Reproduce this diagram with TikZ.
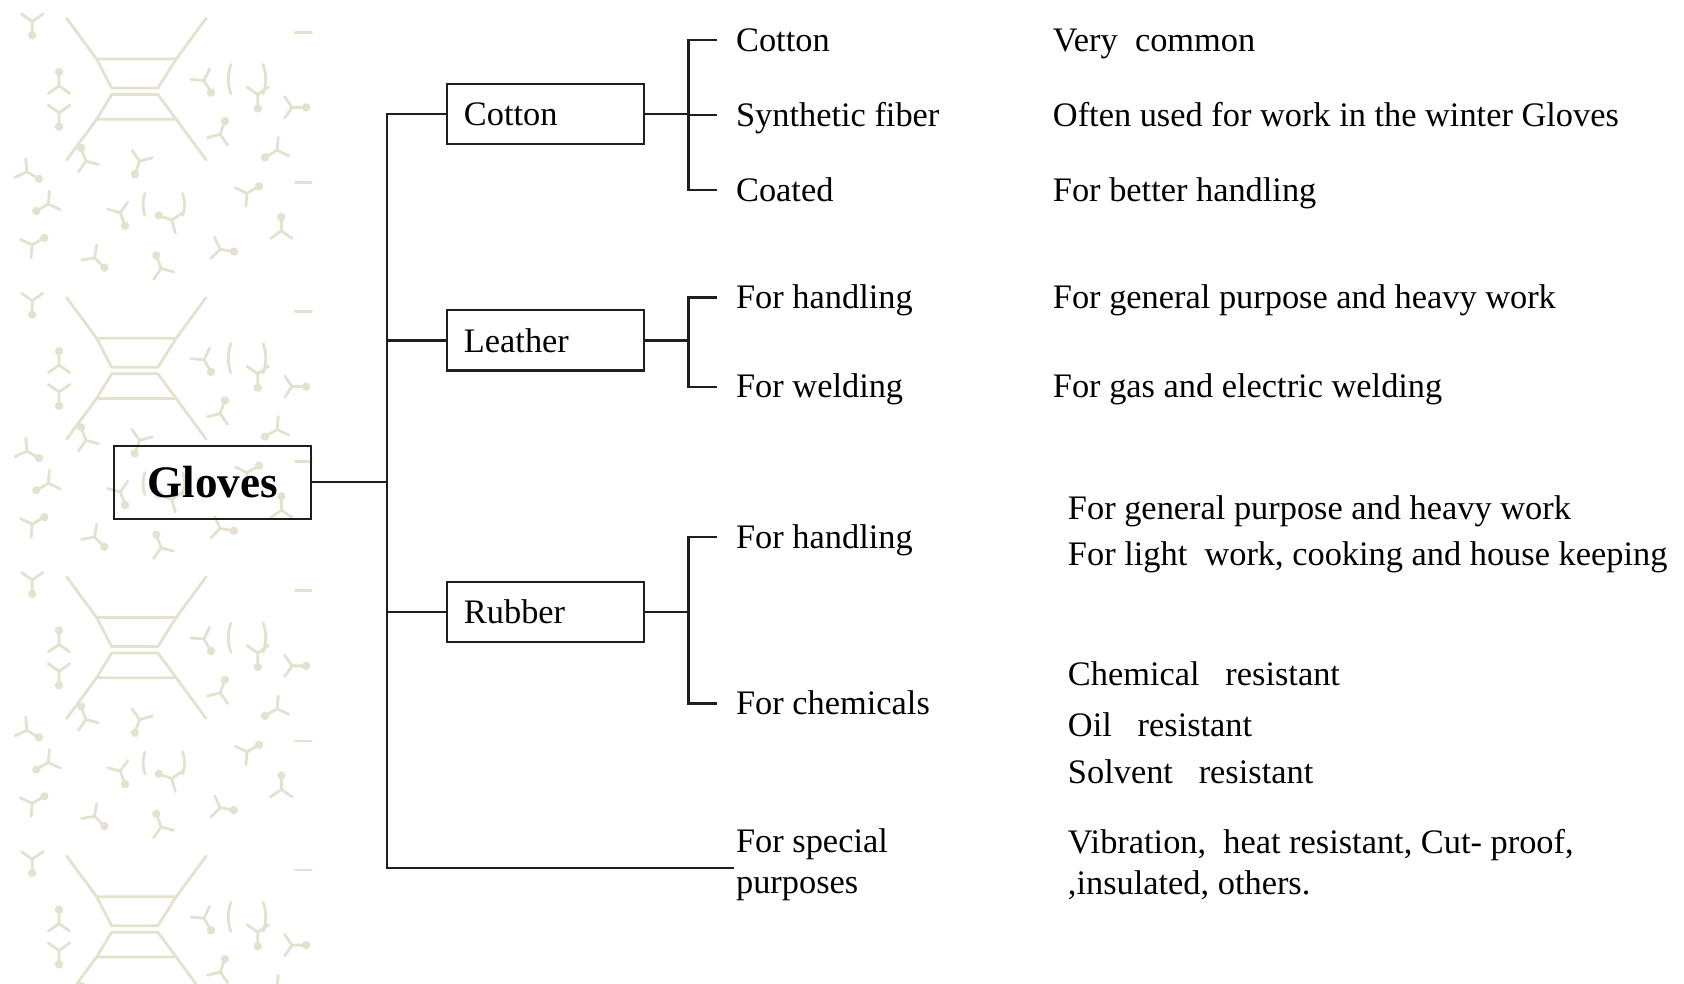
\documentclass[tikz,border=0pt]{standalone}
\usepackage{fontspec}
\setmainfont{Liberation Serif}
\usetikzlibrary{positioning,calc}

\definecolor{patbeige}{RGB}{229,225,207}
\definecolor{linegray}{RGB}{30,30,30}

\tikzset{
  rootbox/.style={draw=linegray, line width=1pt, minimum width=91.5pt, minimum height=34pt,
    inner sep=0pt, font=\fontsize{21}{24}\selectfont\bfseries},
  catbox/.style={draw=linegray, line width=1pt, minimum height=28pt, text width=76pt,
    align=left, inner sep=8pt, font=\fontsize{16}{18}\selectfont},
  leaf/.style={anchor=west, inner sep=0pt, text height=14pt, text depth=3.5pt,
    font=\fontsize{16}{18}\selectfont},
  leaftwo/.style={anchor=west, inner sep=0pt, align=left,
    font=\fontsize{16}{19}\selectfont},
  conn/.style={draw=linegray, line width=1pt},
  motif/.style={draw=patbeige, line width=1.3pt, line cap=round},
  stick/.pic={
    \draw[motif] (0,0) -- (0,13) (0,0) -- (-10,-7) (0,0) -- (10,-7);
    \draw[motif] (0,13) circle (2.5);
  },
}

\begin{document}
\begin{tikzpicture}[x=0.5pt, y=-0.5pt]
  \useasboundingbox (0,0) rectangle (1568,916);

  % background strip
  \begin{scope}
    \clip (10,10) rectangle (293,916);
    \foreach \y in {-205,55,315,575,835} {
      \draw[motif] (90,\y) -- (164,\y) -- (147,\y+27) -- (104,\y+27) -- cycle;
      \draw[motif] (104,\y+33) -- (147,\y+33) -- (164,\y+56) -- (90,\y+56) -- cycle;
      \draw[motif] (90,\y) -- (62,\y-38) (164,\y) -- (192,\y-38);
      \draw[motif] (90,\y+56) -- (62,\y+94) (164,\y+56) -- (192,\y+94);
      \foreach \px/\py/\r in {30/20/0, 55/80/180, 55/105/0, 25/160/60, 80/150/200,
          190/75/30, 205/125/160, 240/88/0, 258/140/300, 272/100/90,
          30/228/120, 112/198/20, 160/205/250, 205/232/80, 262/215/180, 130/150/340,
          88/240/45, 150/250/200, 230/180/120, 45/190/300} {
        \pic[rotate=\r] at (\px,\y+\py-55) {stick};
      }
      \draw[motif] (215,\y+5) arc (200:160:40) (245,\y+5) arc (-20:20:40);
      \draw[motif] (135,\y+125) arc (200:160:30) (170,\y+125) arc (-20:20:30);
      \draw[motif] (275,\y-25) -- (290,\y-25) (275,\y+115) -- (290,\y+115);
    }
  \end{scope}

  % boxes
  \node[rootbox] (gloves) at (198,449) {Gloves};
  \node[catbox] (cotton) at (508,106) {Cotton};
  \node[catbox] (leather) at (508,317) {Leather};
  \node[catbox] (rubber) at (508,570) {Rubber};

  % second level
  \node[leaf] (c1) at (685,37) {Cotton};
  \node[leaf] (c2) at (685,107) {Synthetic fiber};
  \node[leaf] (c3) at (685,177) {Coated};
  \node[leaf] (l1) at (685,277) {For handling};
  \node[leaf] (l2) at (685,360) {For welding};
  \node[leaf] (r1) at (685,500) {For handling};
  \node[leaf] (r2) at (685,655) {For chemicals};
  \node[leaftwo] (sp) at (685,805) {For special\\purposes};

  % descriptions
  \node[leaf] (d1) at (980,37) {Very~ common};
  \node[leaf] (d2) at (980,107) {Often used for work in the winter Gloves};
  \node[leaf] (d3) at (980,177) {For better handling};
  \node[leaf] (d4) at (980,277) {For general purpose and heavy work};
  \node[leaf] (d5) at (980,360) {For gas and electric welding};
  \node[leaf] (d6) at (994,473) {For general purpose and heavy work};
  \node[leaf] (d7) at (994,516) {For light~ work, cooking and house keeping};
  \node[leaf] (d8) at (994,628) {Chemical~~ resistant};
  \node[leaf] (d9) at (994,675) {Oil~~ resistant};
  \node[leaf] (d10) at (994,719) {Solvent~~ resistant};
  \node[leaftwo] (d11) at (994,805) {Vibration,~ heat resistant, Cut- proof,\\,insulated, others.};

  % connectors
  \coordinate (tr) at (360,0);
  \coordinate (sb) at (641,0);
  \coordinate (spj) at (683,808);

  \draw[conn] (gloves.east) -- (gloves.east -| tr);
  \draw[conn] (cotton.west) -- (cotton.west -| tr) -- (spj -| tr) -- (spj);
  \draw[conn] (leather.west) -- (leather.west -| tr);
  \draw[conn] (rubber.west) -- (rubber.west -| tr);

  \foreach \b/\t/\e in {cotton/c1/c3, leather/l1/l2, rubber/r1/r2} {
    \draw[conn] (\b.east) -- (\b.east -| sb);
    \draw[conn] ($(\t.west)+(-17,0)$) -- (\t.west -| sb) -- (\e.west -| sb) -- ($(\e.west)+(-17,0)$);
  }
  \draw[conn] (c2.west -| sb) -- ($(c2.west)+(-17,0)$);
\end{tikzpicture}
\end{document}
